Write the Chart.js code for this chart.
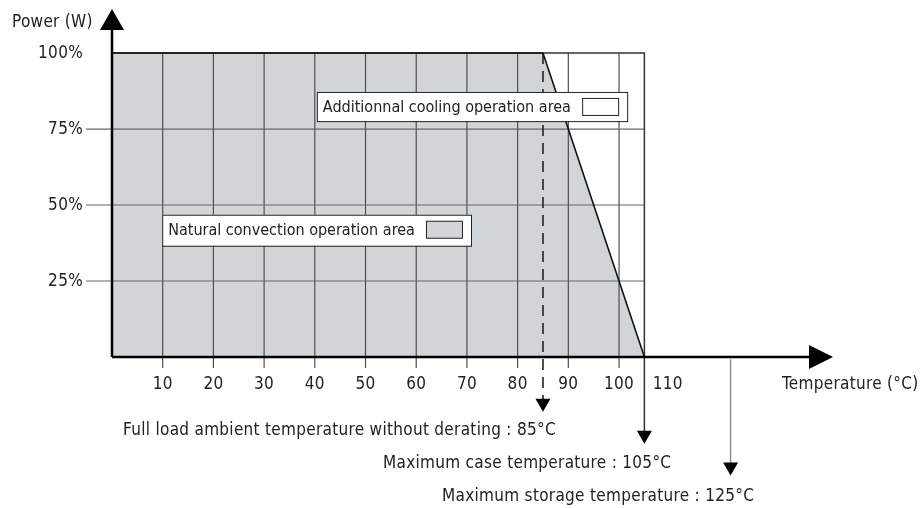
<!DOCTYPE html>
<html>
<head>
<meta charset="utf-8">
<title>Derating curve</title>
<script src="https://cdn.jsdelivr.net/npm/chart.js@4.4.0/dist/chart.umd.min.js"></script>
<style>
  html, body { margin: 0; padding: 0; background: #fff; }
  #wrap { width: 920px; height: 508px; }
</style>
</head>
<body>
<div id="wrap"><canvas id="derating" width="920" height="508"></canvas></div>
<script>
// --- Data ---
const xTicks = [10, 20, 30, 40, 50, 60, 70, 80, 90, 100];
const xLabels = [10, 20, 30, 40, 50, 60, 70, 80, 90, 100, 110];
const yTicks = [25, 50, 75];
const yLabels = ['100%', '75%', '50%', '25%'];
const yLabelVals = [100, 75, 50, 25];
const curveTemp = [0, 85, 105];
const curvePower = [100, 100, 0];
const markTemps = [85, 105, 122];
const markTips = [-18, -28.5, -39];
const markTexts = [
  'Full load ambient temperature without derating : 85\u00B0C',
  'Maximum case temperature : 105\u00B0C',
  'Maximum storage temperature : 125\u00B0C'
];
const areaTexts = ['Natural convection operation area', 'Additionnal cooling operation area'];

const FONT = '17px "DejaVu Sans Condensed", "DejaVu Sans", sans-serif';
const BOX_FONT = '16px "DejaVu Sans Condensed", "DejaVu Sans", sans-serif';
const TEXT = '#222';
const SHADE = '#d2d5d8';

const pts = (xs, ys) => xs.map((x, i) => ({ x, y: ys[i] }));

// --- Arrowhead helper ---
function head(ctx, x, y, dir, len, half) {
  ctx.beginPath();
  ctx.moveTo(x, y);
  if (dir === 'up') { ctx.lineTo(x - half, y + len); ctx.lineTo(x + half, y + len); }
  if (dir === 'down') { ctx.lineTo(x - half, y - len); ctx.lineTo(x + half, y - len); }
  if (dir === 'right') { ctx.lineTo(x - len, y - half); ctx.lineTo(x - len, y + half); }
  ctx.closePath();
  ctx.fill();
}

// --- Grid under the curves, axes and texts on top ---
const gridPlugin = {
  id: 'grid',
  beforeDatasetsDraw(chart) {
    const { ctx, scales: { x, y } } = chart;
    ctx.save();
    ctx.strokeStyle = '#4e4e4e';
    ctx.lineWidth = 1.2;
    xTicks.forEach(t => {
      ctx.beginPath();
      ctx.moveTo(x.getPixelForValue(t), y.getPixelForValue(100));
      ctx.lineTo(x.getPixelForValue(t), y.getPixelForValue(0) + 11);
      ctx.stroke();
    });
    ctx.strokeStyle = '#666';
    yTicks.forEach(t => {
      ctx.beginPath();
      ctx.moveTo(x.getPixelForValue(0) - 26, y.getPixelForValue(t));
      ctx.lineTo(x.getPixelForValue(105), y.getPixelForValue(t));
      ctx.stroke();
    });
    ctx.restore();
  },
  afterDatasetsDraw(chart) {
    const { ctx, chartArea, scales: { x, y } } = chart;
    const x0 = x.getPixelForValue(0), y0 = y.getPixelForValue(0);
    ctx.save();
    ctx.fillStyle = '#000';
    ctx.strokeStyle = '#000';
    ctx.lineWidth = 2.5;
    // axes
    ctx.beginPath();
    ctx.moveTo(x0, y0);
    ctx.lineTo(x0, chartArea.top + 10);
    ctx.moveTo(x0, y0);
    ctx.lineTo(chartArea.right - 10, y0);
    ctx.stroke();
    head(ctx, x0, chartArea.top - 3, 'up', 21, 12);
    head(ctx, chartArea.right, y0, 'right', 24, 12);

    // marker arrowheads
    markTemps.forEach((t, i) => {
      head(ctx, x.getPixelForValue(t), y.getPixelForValue(markTips[i]), 'down', 13, 7.5);
    });

    // text
    ctx.font = FONT;
    ctx.letterSpacing = '0.3px';
    ctx.fillStyle = TEXT;
    ctx.textBaseline = 'middle';
    ctx.textAlign = 'left';
    ctx.fillText('Power (W)', 12, 23);
    ctx.fillText('Temperature (\u00B0C)', 782, y0 + 28);
    ctx.textAlign = 'right';
    yLabels.forEach((s, i) => ctx.fillText(s, x0 - 29, y.getPixelForValue(yLabelVals[i]) + 1));
    ctx.textAlign = 'center';
    xLabels.forEach(v => ctx.fillText(String(v), x.getPixelForValue(v) - (v === 110 ? 2 : 0), y0 + 28));

    ctx.textAlign = 'left';
    const markLeft = [123, 383, 442];
    const markY = [-23.7, -34.5, -45.2];
    markTexts.forEach((s, i) => ctx.fillText(s, markLeft[i], y.getPixelForValue(markY[i]) + 2));

    // area label boxes: [left, top, right, bottom] in data units
    ctx.font = BOX_FONT;
    ctx.letterSpacing = '0px';
    const boxes = [[9.9, 46.8, 70.8, 36.6], [40.4, 87.2, 101.6, 77.6]];
    const swatch = [SHADE, '#fff'];
    boxes.forEach((b, i) => {
      const l = x.getPixelForValue(b[0]), t = y.getPixelForValue(b[1]);
      const r = x.getPixelForValue(b[2]), btm = y.getPixelForValue(b[3]);
      ctx.fillStyle = '#fff';
      ctx.fillRect(l, t, r - l, btm - t);
      ctx.lineWidth = 1;
      ctx.strokeStyle = '#222';
      ctx.strokeRect(l + 0.5, t + 0.5, r - l, btm - t);
      ctx.fillStyle = swatch[i];
      ctx.fillRect(r - 45, t + 6.5, 36, 17);
      ctx.strokeStyle = '#222';
      ctx.strokeRect(r - 45 + 0.5, t + 6.5, 36, 17);
      ctx.fillStyle = TEXT;
      ctx.fillText(areaTexts[i], l + 6, (t + btm) / 2 + 1);
    });
    ctx.restore();
  }
};

const line = (data, color, width, extra) => Object.assign({
  data, showLine: true, borderColor: color, borderWidth: width,
  pointRadius: 0, fill: false, clip: false, tension: 0
}, extra || {});

new Chart(document.getElementById('derating'), {
  type: 'scatter',
  data: {
    datasets: [
      // shaded natural convection area
      line(pts(curveTemp, curvePower), '#111', 1.6, { fill: 'origin', backgroundColor: SHADE }),
      // white area border (top and right)
      line([{ x: 0, y: 100 }, { x: 105, y: 100 }, { x: 105, y: markTips[1] + 4 }], '#333', 1.5),
      // full load marker (dashed)
      line([{ x: markTemps[0], y: 100 }, { x: markTemps[0], y: markTips[0] + 4 }], '#222', 1.6, { borderDash: [11, 7] }),
      // storage marker
      line([{ x: markTemps[2], y: -0.7 }, { x: markTemps[2], y: markTips[2] + 4 }], '#888', 1.4)
    ]
  },
  options: {
    responsive: false,
    animation: false,
    events: [],
    layout: { padding: { left: 112, right: 87, top: 12, bottom: 151 } },
    scales: {
      x: { type: 'linear', min: 0, max: 142.2, display: false },
      y: { type: 'linear', min: 0, max: 113.5, display: false }
    },
    plugins: {
      legend: { display: false },
      tooltip: { enabled: false },
      filler: { drawTime: 'beforeDatasetsDraw' }
    }
  },
  plugins: [gridPlugin]
});
</script>
</body>
</html>
